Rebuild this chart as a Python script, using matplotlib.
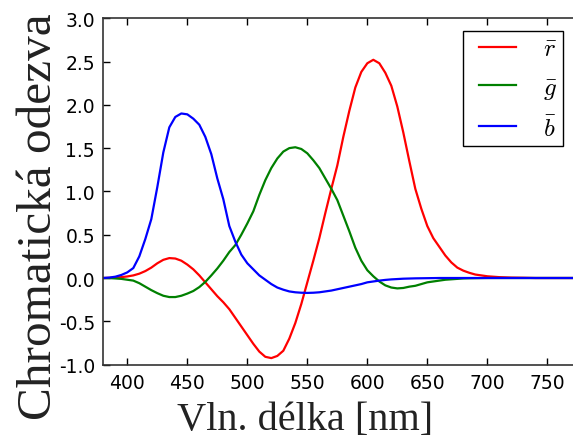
import matplotlib
matplotlib.use("Agg")
import matplotlib.pyplot as plt
from matplotlib.lines import Line2D
from matplotlib.legend_handler import HandlerLine2D

# wavelength [nm]
wl = [380, 385, 390, 395, 400, 405, 410, 415, 420, 425, 430, 435, 440, 445, 450,
      455, 460, 465, 470, 475, 480, 485, 490, 495, 500, 505, 510, 515, 520, 525,
      530, 535, 540, 545, 550, 555, 560, 565, 570, 575, 580, 585, 590, 595, 600,
      605, 610, 615, 620, 625, 630, 635, 640, 645, 650, 655, 660, 665, 670, 675,
      680, 685, 690, 695, 700, 710, 720, 730, 740, 750, 760, 770, 780]

r_bar = [0.0, 0.002, 0.005, 0.01, 0.018, 0.03, 0.05, 0.08, 0.12, 0.17, 0.21, 0.23,
         0.225, 0.2, 0.155, 0.1, 0.03, -0.05, -0.13, -0.21, -0.28, -0.36, -0.46,
         -0.56, -0.66, -0.76, -0.85, -0.91, -0.925, -0.9, -0.84, -0.7, -0.52, -0.3,
         -0.05, 0.2, 0.46, 0.75, 1.03, 1.3, 1.63, 1.93, 2.2, 2.38, 2.48, 2.52, 2.48,
         2.37, 2.22, 1.98, 1.68, 1.35, 1.03, 0.8, 0.6, 0.46, 0.36, 0.26, 0.18, 0.12,
         0.085, 0.06, 0.04, 0.03, 0.02, 0.01, 0.005, 0.003, 0.0, 0.0, 0.0, 0.0, 0.0]

g_bar = [0.0, -0.001, -0.005, -0.01, -0.02, -0.03, -0.06, -0.1, -0.14, -0.175,
         -0.205, -0.22, -0.22, -0.205, -0.18, -0.15, -0.105, -0.045, 0.03, 0.11,
         0.2, 0.3, 0.38, 0.5, 0.63, 0.77, 0.96, 1.13, 1.27, 1.38, 1.46, 1.5, 1.51,
         1.49, 1.44, 1.36, 1.27, 1.15, 1.03, 0.9, 0.72, 0.54, 0.35, 0.2, 0.09, 0.02,
         -0.04, -0.085, -0.11, -0.12, -0.115, -0.1, -0.09, -0.07, -0.05, -0.04,
         -0.03, -0.02, -0.015, -0.01, -0.005, -0.003, -0.002, -0.001, 0.0, 0.0,
         0.0, 0.0, 0.0, 0.0, 0.0, 0.0, 0.0]

b_bar = [0.0, 0.005, 0.015, 0.035, 0.065, 0.115, 0.25, 0.45, 0.68, 1.05, 1.45,
         1.74, 1.86, 1.9, 1.89, 1.84, 1.77, 1.63, 1.43, 1.15, 0.91, 0.6, 0.42,
         0.27, 0.17, 0.1, 0.03, -0.02, -0.07, -0.11, -0.135, -0.155, -0.165, -0.17,
         -0.172, -0.17, -0.165, -0.155, -0.145, -0.13, -0.115, -0.1, -0.085, -0.07,
         -0.05, -0.04, -0.03, -0.022, -0.016, -0.012, -0.008, -0.006, -0.004,
         -0.003, -0.002, -0.001, 0.0, 0.0, 0.0, 0.0, 0.0, 0.0, 0.0, 0.0, 0.0, 0.0,
         0.0, 0.0, 0.0, 0.0, 0.0, 0.0, 0.0]

labels = [r"$\bar{r}$", r"$\bar{g}$", r"$\bar{b}$"]
colors = ["#ff0000", "#008000", "#0000ff"]

plt.rcParams["mathtext.fontset"] = "cm"

fig = plt.figure(figsize=(5.73, 4.39), dpi=100)
ax = fig.add_axes([0.1803, 0.1672, 0.8377, 0.789])

for ys, lab, c in zip([r_bar, g_bar, b_bar], labels, colors):
    ax.plot(wl, ys, color=c, lw=1.6, label=lab)

ax.set_xlim(380, 780)
ax.set_ylim(-1.0, 3.0)
ax.set_xticks([400, 450, 500, 550, 600, 650, 700, 750])
ax.set_yticks([-1.0, -0.5, 0.0, 0.5, 1.0, 1.5, 2.0, 2.5, 3.0])
ax.yaxis.set_major_formatter(matplotlib.ticker.FormatStrFormatter("%.1f"))
ax.tick_params(direction="in", top=True, right=True, length=5, width=1,
               labelsize=13.5, pad=6)
for s in ax.spines.values():
    s.set_linewidth(1.2)
    s.set_color("#333333")

ax.set_xlabel("Vln. délka [nm]", family="Liberation Serif", fontsize=29,
              color="#222222")
ax.xaxis.set_label_coords(0.421, -0.105)
ax.set_ylabel("Chromatická odezva", family="Liberation Serif", fontsize=35.5,
              color="#222222")
ax.yaxis.set_label_coords(-0.088, 0.429)

leg = ax.legend(loc="upper right", bbox_to_anchor=(563 / 573, 1 - 32 / 439),
                bbox_transform=fig.transFigure, borderaxespad=0,
                fontsize=18, fancybox=False, framealpha=1, edgecolor="black",
                handlelength=1.89, labelspacing=0.57, handletextpad=1.1,
                borderpad=0.22,
                handler_map={Line2D: HandlerLine2D(xpad=0.41)})
leg.get_frame().set_linewidth(1.0)

fig.savefig("out.png", dpi=100)
